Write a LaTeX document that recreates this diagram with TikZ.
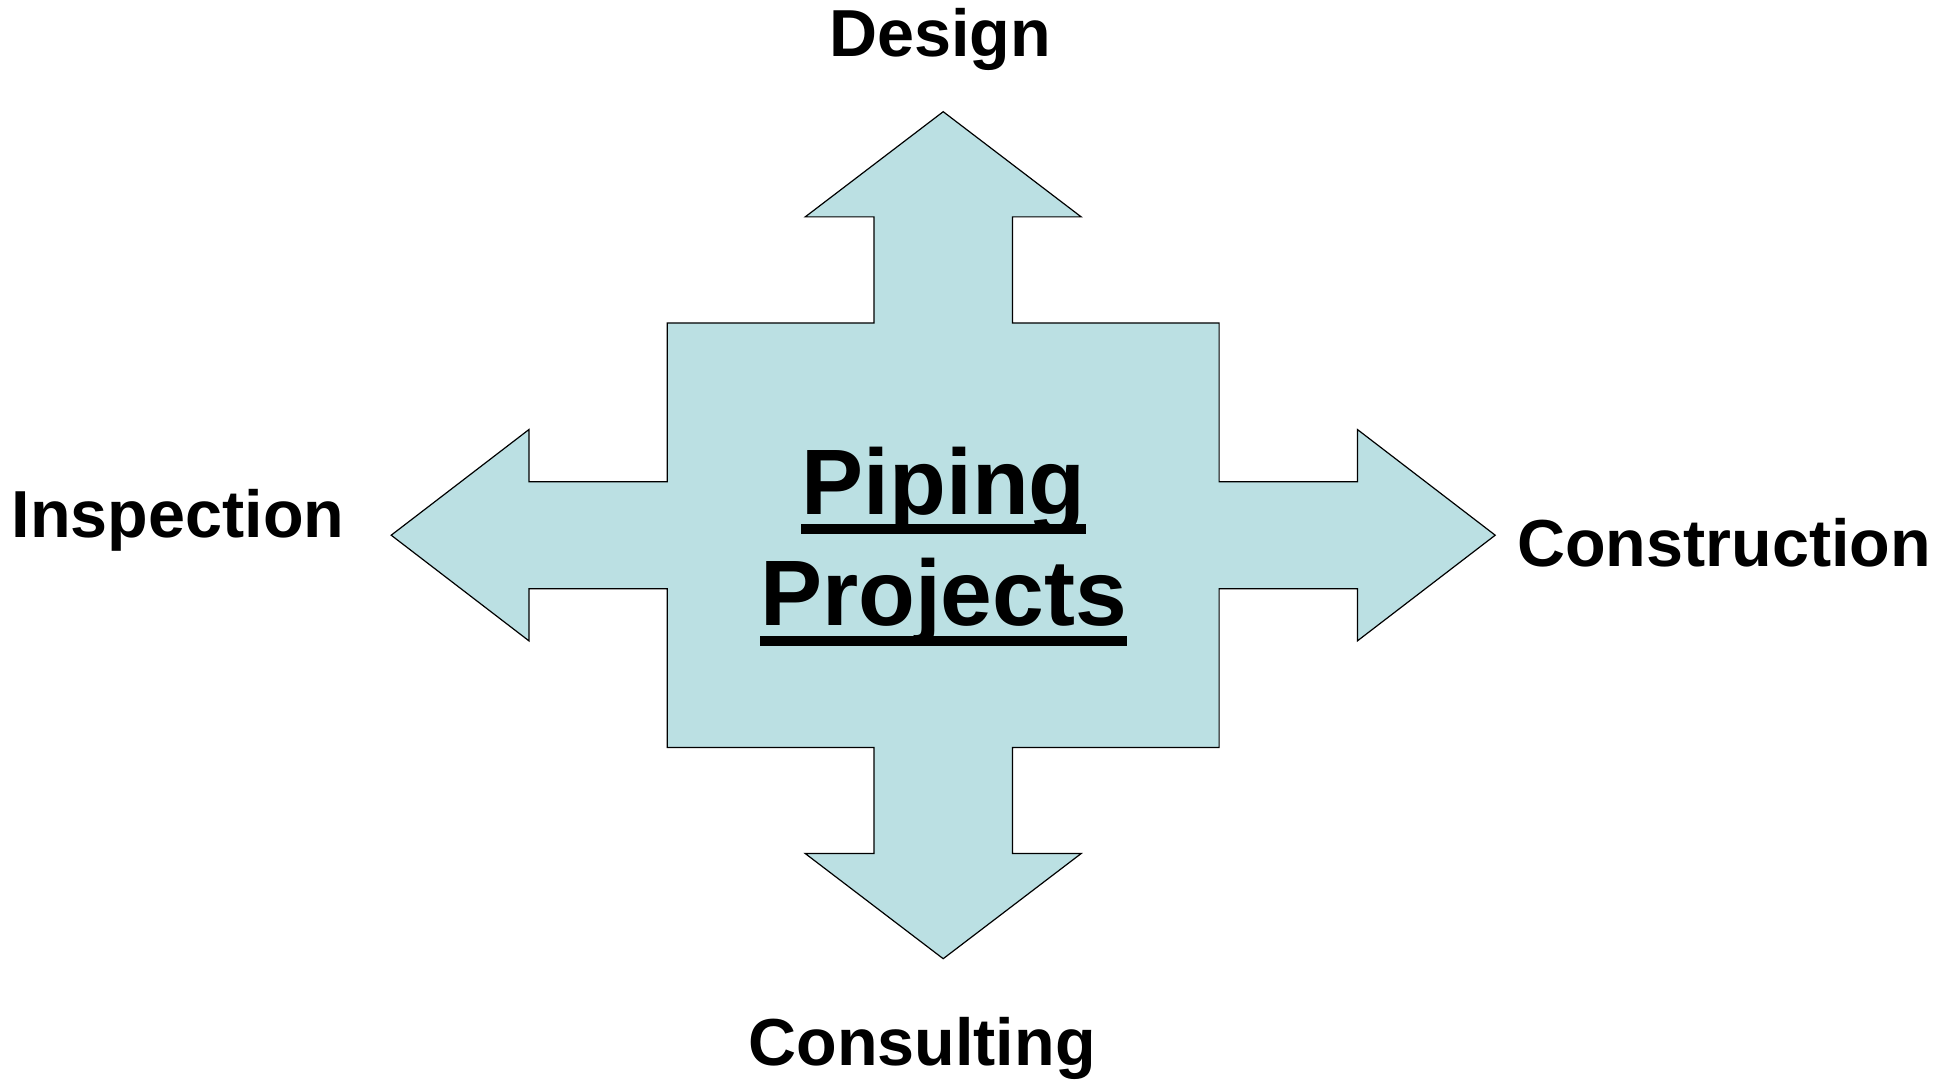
\documentclass[tikz,border=0pt]{standalone}
\usepackage{fontspec}
\setmainfont{Liberation Sans}
\definecolor{arrowfill}{RGB}{187,224,227}
\begin{document}
\begin{tikzpicture}[x=1pt,y=-1pt,
  label/.style={font=\fontsize{66.5}{80}\selectfont\bfseries, inner sep=0pt, anchor=base},
  title/.style={font=\fontsize{93}{112}\selectfont\bfseries, inner sep=0pt, anchor=base},
  uline/.style={fill=black, draw=none}]
\useasboundingbox (0,0) rectangle (1955,1083);
\begin{scope}[shift={(943.2,535.2)}]
\draw[fill=arrowfill, line width=1.2pt, line join=miter]
  (0,-423.5) -- (138,-318.3) -- (69.2,-318.3) -- (69.2,-212.2) -- (275.9,-212.2)
  -- (275.9,-53.5) -- (414.2,-53.5) -- (414.2,-105.7) -- (552,0) -- (414.2,105.7)
  -- (414.2,53.5) -- (275.9,53.5) -- (275.9,212.2) -- (69.2,212.2) -- (69.2,318.3)
  -- (138,318.3) -- (0,423.5) -- (-138,318.3) -- (-69.2,318.3) -- (-69.2,212.2)
  -- (-275.9,212.2) -- (-275.9,53.5) -- (-414.2,53.5) -- (-414.2,105.7) -- (-552,0)
  -- (-414.2,-105.7) -- (-414.2,-53.5) -- (-275.9,-53.5) -- (-275.9,-212.2)
  -- (-69.2,-212.2) -- (-69.2,-318.3) -- (-138,-318.3) -- cycle;
\end{scope}
\node[label] (design) at (940,57) {Design};
\node[label] (inspection) at (178,537) {Inspection};
\node[label] (construction) at (1724,566) {Construction};
\node[label] (consulting) at (922,1065) {Consulting};
\node[title] (piping) at (943.5,514.3) {Piping};
\node[title] (projects) at (943.5,625.7) {Projects};
\fill[uline] ([yshift=-10pt]piping.base west) rectangle ([yshift=-19.7pt]piping.base east);
\fill[uline] ([yshift=-10.3pt]projects.base west) rectangle ([yshift=-20.3pt]projects.base east);
\end{tikzpicture}
\end{document}
